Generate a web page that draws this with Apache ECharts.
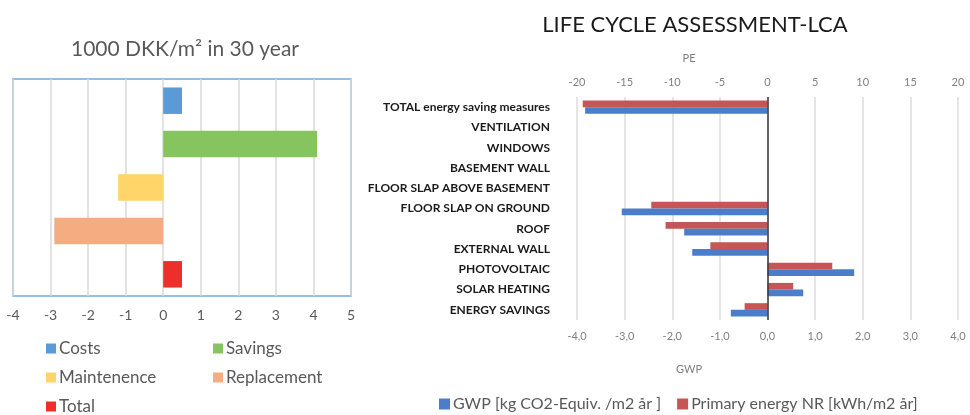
<!DOCTYPE html>
<html lang="en">
<head>
<meta charset="UTF-8">
<title>Costs and LCA</title>
<script src="https://cdn.jsdelivr.net/npm/echarts@6/dist/echarts.min.js"></script>
<style>
  html, body { margin: 0; padding: 0; background: #fff; }
  #main { width: 970px; height: 415px; }
</style>
</head>
<body>
<div id="main"></div>
<script>
// left chart: 1000 DKK/m2 in 30 year
var costNames = ['Costs', 'Savings', 'Maintenence', 'Replacement', 'Total'];
var costValues = [0.5, 4.1, -1.2, -2.9, 0.5];
var costColors = ['#5b9bd5', '#86c45f', '#ffd569', '#f4ac80', '#ee2e28'];
var costTicks = [-4, -3, -2, -1, 0, 1, 2, 3, 4, 5];

// right chart: LCA
var lcaCategories = ['TOTAL energy saving measures', 'VENTILATION', 'WINDOWS', 'BASEMENT WALL',
  'FLOOR SLAP ABOVE BASEMENT', 'FLOOR SLAP ON GROUND', 'ROOF', 'EXTERNAL WALL',
  'PHOTOVOLTAIC', 'SOLAR HEATING', 'ENERGY SAVINGS'];
var peValues = [-19.4, 0, 0, 0, 0, -12.2, -10.7, -6.0, 6.8, 2.7, -2.4];
var gwpValues = [-3.83, 0, 0, 0, 0, -3.06, -1.75, -1.58, 1.82, 0.75, -0.77];
var peTicks = [-20, -15, -10, -5, 0, 5, 10, 15, 20];
var gwpTicks = [-4, -3, -2, -1, 0, 1, 2, 3, 4];

var gwpName = 'GWP [kg CO2-Equiv. /m2 år ]';
var peName = 'Primary energy NR [kWh/m2 år]';

var font = 'Lato, "Open Sans", sans-serif';
var chart = echarts.init(document.getElementById('main'));

var series = [];
costNames.forEach(function (name, i) {
  var d = costValues.map(function (v, j) { return j === i ? v : '-'; });
  series.push({
    name: name,
    type: 'bar',
    xAxisIndex: 0,
    yAxisIndex: 0,
    stack: 'cost',
    barCategoryGap: '39%',
    itemStyle: { color: costColors[i] },
    data: d
  });
});
series.push({
  name: peName,
  type: 'bar',
  xAxisIndex: 1,
  yAxisIndex: 1,
  barGap: '0%',
  barCategoryGap: '34%',
  itemStyle: { color: '#c65555' },
  data: peValues
});
series.push({
  name: gwpName,
  type: 'bar',
  xAxisIndex: 2,
  yAxisIndex: 1,
  barGap: '0%',
  barCategoryGap: '34%',
  itemStyle: { color: '#4a7ecb' },
  data: gwpValues,
  markLine: {
    silent: true,
    symbol: 'none',
    label: { show: false },
    lineStyle: { color: '#3a3a3a', width: 1.5, type: 'solid' },
    data: [{ xAxis: 0 }]
  }
});

var legendText = { fontFamily: font, fontSize: 17, color: '#595959', padding: [0, 0, 0, -2] };

var option = {
  animation: false,
  textStyle: { fontFamily: font },
  title: [
    { text: '1000 DKK/m² in 30 year', left: 180, top: 34, textAlign: 'center',
      textStyle: { fontFamily: font, fontSize: 21, fontWeight: 'normal', color: '#595959' } },
    { text: 'LIFE CYCLE ASSESSMENT-LCA', left: 690, top: 9, textAlign: 'center',
      textStyle: { fontFamily: font, fontSize: 22, fontWeight: 'normal', color: '#1a1a1a' } },
    { text: 'PE', left: 684, top: 48, textAlign: 'center',
      textStyle: { fontFamily: font, fontSize: 11, fontWeight: 'normal', color: '#7f7f7f' } },
    { text: 'GWP', left: 684, top: 359, textAlign: 'center',
      textStyle: { fontFamily: font, fontSize: 11, fontWeight: 'normal', color: '#7f7f7f' } }
  ],
  legend: [
    { data: ['Costs', 'Maintenence', 'Total'], orient: 'vertical', left: 46, top: 340,
      height: 75, padding: 0, itemWidth: 10, itemHeight: 10, itemGap: 12, icon: 'rect',
      selectedMode: false, textStyle: legendText },
    { data: ['Savings', 'Replacement'], orient: 'vertical', left: 213, top: 340,
      height: 75, padding: 0, itemWidth: 10, itemHeight: 10, itemGap: 12, icon: 'rect',
      selectedMode: false, textStyle: legendText },
    { data: [gwpName, peName], orient: 'horizontal', left: 434, top: 391,
      itemWidth: 11, itemHeight: 11, itemGap: 16, icon: 'rect', selectedMode: false,
      textStyle: { fontFamily: font, fontSize: 16, color: '#595959', padding: [0, 0, 0, -2] } }
  ],
  grid: [
    { left: 13, top: 79, width: 338, height: 217, show: true,
      borderColor: '#7aa6d8', borderWidth: 1.5, backgroundColor: 'transparent' },
    { left: 577, top: 97, width: 381, height: 223 }
  ],
  xAxis: [
    { type: 'value', gridIndex: 0, min: costTicks[0], max: costTicks[costTicks.length - 1], interval: 1,
      axisLine: { show: false }, axisTick: { show: false },
      splitLine: { show: true, lineStyle: { color: '#d9d9d9', width: 1.5 } },
      axisLabel: { margin: 12, fontSize: 14, color: '#595959' } },
    { type: 'value', gridIndex: 1, position: 'top', min: peTicks[0], max: peTicks[peTicks.length - 1], interval: 5,
      axisLine: { show: false }, axisTick: { show: false }, splitLine: { show: false },
      axisLabel: { margin: 9, fontSize: 11, color: '#7f7f7f' } },
    { type: 'value', gridIndex: 1, position: 'bottom', min: gwpTicks[0], max: gwpTicks[gwpTicks.length - 1], interval: 1,
      axisLine: { show: false }, axisTick: { show: false },
      splitLine: { show: true, lineStyle: { color: '#dcdcdc', width: 1.5 } },
      axisLabel: { margin: 11, fontSize: 11, color: '#7f7f7f',
        formatter: function (v) { return v.toFixed(1).replace('.', ','); } } }
  ],
  yAxis: [
    { type: 'category', gridIndex: 0, inverse: true, data: costNames,
      axisLine: { show: false }, axisTick: { show: false }, axisLabel: { show: false } },
    { type: 'category', gridIndex: 1, inverse: true, data: lcaCategories,
      axisLine: { show: false }, axisTick: { show: false },
      axisLabel: { margin: 27, fontSize: 12, fontWeight: 'bold', color: '#1a1a1a' } }
  ],
  series: series
};
chart.setOption(option);
</script>
</body>
</html>
